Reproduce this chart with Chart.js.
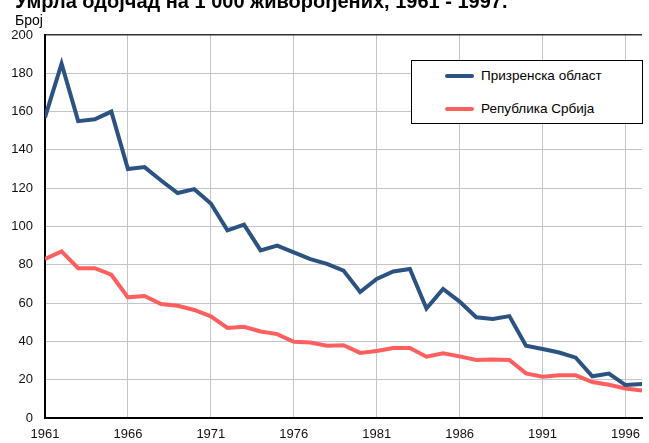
<!DOCTYPE html>
<html>
<head>
<meta charset="utf-8">
<script src="https://cdn.jsdelivr.net/npm/chart.js@4"></script>
<style>
  body { margin: 0; background: #fff; font-family: "Liberation Sans", Arial, sans-serif; }
  #wrap { position: relative; width: 649px; height: 443px; overflow: hidden; }
  #title { position: absolute; left: 15px; top: -9px; font-size: 20px; font-weight: bold; line-height: 20px; white-space: nowrap; color: #000; }
  #unit { position: absolute; left: 15px; top: 13px; font-size: 14px; line-height: 14px; color: #000; }
  #legend { position: absolute; left: 411px; top: 60px; width: 230px; height: 62px; border: 1px solid #000; background: #fff; font-size: 13.5px; }
  .row { position: absolute; left: 33px; display: flex; align-items: center; }
  .row span.sw { display: inline-block; width: 29px; height: 4px; border-radius: 2px; margin-right: 7px; }
</style>
</head>
<body>
<div id="wrap">
  <canvas id="chart" width="649" height="443"></canvas>
  <div id="title">Умрла одојчад на 1 000 живорођених, 1961 - 1997.</div>
  <div id="unit">Број</div>
  <div id="legend"></div>
</div>
<script>
const years = [];
for (let y = 1961; y <= 1997; y++) years.push(y);

const prizren = [157, 185, 155, 156, 160, 130, 131, 124, 117.5, 119.5,
  112, 98, 101, 87.5, 90, 86.5, 83, 80.5, 77, 65.8,
  72.6, 76.5, 77.8, 57.2, 67.4, 60.8, 52.6, 51.7, 53.2, 37.8,
  36, 34.2, 31.5, 21.8, 23.2, 17.2, 17.8];

const serbia = [83, 87, 78.2, 78.2, 74.8, 63, 63.7, 59.5, 58.6, 56.4,
  53.1, 47, 47.6, 45.2, 43.8, 39.8, 39.4, 37.7, 38, 34,
  35, 36.5, 36.6, 32, 33.8, 32.2, 30.3, 30.6, 30.3, 23.3,
  21.6, 22.3, 22.3, 18.8, 17.4, 15.4, 14.3];

const xTicks = [1961, 1966, 1971, 1976, 1981, 1986, 1991, 1996];
const seriesNames = ["Призренска област", "Република Србија"];
const colors = ["#2c5282", "#ff5f5f"];

const legend = document.getElementById("legend");
seriesNames.forEach((name, i) => {
  const row = document.createElement("div");
  row.className = "row";
  row.style.top = (i === 0 ? 7 : 40) + "px";
  row.innerHTML = `<span class="sw" style="background:${colors[i]}"></span>${name}`;
  legend.appendChild(row);
});

const ctx = document.getElementById("chart");
new Chart(ctx, {
  type: "line",
  data: {
    datasets: [
      {
        label: seriesNames[0],
        data: years.map((y, i) => ({ x: y, y: prizren[i] })),
        borderColor: colors[0],
        borderWidth: 4,
        pointRadius: 0,
        tension: 0,
      },
      {
        label: seriesNames[1],
        data: years.map((y, i) => ({ x: y, y: serbia[i] })),
        borderColor: colors[1],
        borderWidth: 4,
        pointRadius: 0,
        tension: 0,
      },
    ],
  },
  options: {
    responsive: false,
    animation: false,
    layout: { padding: { top: 35, right: 2, left: 0, bottom: 0 } },
    plugins: { legend: { display: false }, tooltip: { enabled: false } },
    scales: {
      x: {
        type: "linear",
        min: 1961,
        max: 1997,
        afterBuildTicks: (axis) => { axis.ticks = xTicks.map((v) => ({ value: v })); },
        afterFit: (axis) => { axis.height = 25; },
        grid: { color: "#c4c4c4", lineWidth: 1, drawTicks: false },
        border: { color: "#000", width: 2 },
        ticks: {
          padding: 9,
          color: "#111",
          font: { family: "Liberation Sans", size: 13 },
          maxRotation: 0,
          callback: (v) => String(v),
        },
      },
      y: {
        min: 0,
        max: 200,
        afterFit: (axis) => { axis.width = 45; },
        grid: {
          color: (c) => (c.tick && c.tick.value === 200 ? "#333" : "#c4c4c4"),
          lineWidth: (c) => (c.tick && c.tick.value === 200 ? 1.5 : 1),
          drawTicks: false,
        },
        border: { color: "#000", width: 2 },
        ticks: {
          stepSize: 20,
          padding: 12,
          color: "#111",
          font: { family: "Liberation Sans", size: 13 },
        },
      },
    },
  },
});
</script>
</body>
</html>
